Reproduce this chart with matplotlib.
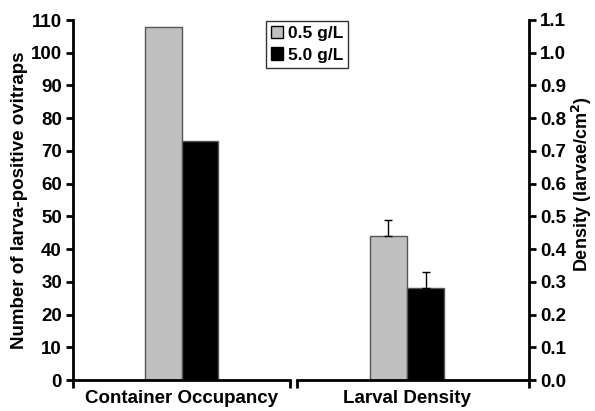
import matplotlib
matplotlib.use("Agg")
import matplotlib.pyplot as plt
from matplotlib.patches import Patch

plt.rcParams["font.family"] = ["Liberation Sans", "DejaVu Sans"]
plt.rcParams["font.weight"] = "bold"
plt.rcParams["axes.labelweight"] = "bold"
plt.rcParams["mathtext.default"] = "bf"

categories = ["Container Occupancy", "Larval Density"]
series = ["0.5 g/L", "5.0 g/L"]
occupancy = [108, 73]          # number of larva-positive ovitraps
density = [0.44, 0.28]         # larvae / cm^2
density_err = [0.05, 0.05]

colors = ["#c0c0c0", "#000000"]
edges = ["#555555", "#555555"]

fig = plt.figure(figsize=(5.95, 4.11), dpi=100)
ax1 = fig.add_axes([73 / 595, 1 - 380 / 411, (290 - 73) / 595, 360 / 411])
ax2 = fig.add_axes([297 / 595, 1 - 380 / 411, (529 - 297) / 595, 360 / 411])

w1 = 0.166
for i, (v, c, e) in enumerate(zip(occupancy, colors, edges)):
    ax1.bar((i - 0.5) * w1, v, width=w1, color=c, edgecolor=e, linewidth=1)
ax1.set_xlim(-0.5, 0.5)
ax1.set_ylim(0, 110)
ax1.set_yticks(range(0, 111, 10))

w2 = 0.16
for i, (v, err, c, e) in enumerate(zip(density, density_err, colors, edges)):
    ax2.bar((i - 0.5) * w2, v, width=w2, color=c, edgecolor=e, linewidth=1,
            yerr=[[0], [err]], capsize=3,
            error_kw=dict(ecolor="black", elinewidth=1, capthick=1))
ax2.set_xlim(-0.474, 0.526)
ax2.set_ylim(0, 1.1)
ax2.set_yticks([i / 10 for i in range(12)])
ax2.set_yticklabels([f"{i / 10:.1f}" for i in range(12)])

fs = 13.5
for ax, cat in zip((ax1, ax2), categories):
    for s in ax.spines.values():
        s.set_linewidth(2)
    ax.spines["top"].set_visible(False)
    lo, hi = ax.get_xlim()
    ax.set_xticks([lo, hi])
    ax.set_xticklabels(["", ""])
    ax.set_xticks([0], minor=True)
    ax.set_xticklabels([cat], minor=True)
    ax.tick_params(axis="x", which="major", direction="out", length=6, width=2)
    ax.tick_params(axis="x", which="minor", length=0, pad=7, labelsize=fs)
    ax.tick_params(axis="y", direction="out", length=5, width=2, labelsize=fs,
                   pad=3)
    for lbl in ax.get_yticklabels() + ax.get_xticklabels(minor=True):
        lbl.set_fontweight("bold")

ax1.spines["right"].set_visible(False)
ax2.spines["left"].set_visible(False)
ax2.yaxis.tick_right()
ax2.yaxis.set_label_position("right")

ax1.set_ylabel("Number of larva-positive ovitraps", fontsize=fs,
               fontweight="bold", labelpad=2)
ax2.set_ylabel("Density (larvae/cm$^{2}$)", fontsize=13,
               fontweight="bold")
ax2.yaxis.set_label_coords(1.175, 0.545)

handles = [Patch(facecolor=c, edgecolor="black", linewidth=1) for c in colors]
leg = fig.legend(handles, series, loc="upper left",
                 bbox_to_anchor=(266 / 595, 1 - 21 / 411),
                 frameon=True, fancybox=False, edgecolor="black",
                 prop=dict(size=12.5, weight="bold"),
                 handlelength=0.7, handleheight=0.7, handletextpad=0.25,
                 borderpad=0.3, labelspacing=0.35, borderaxespad=0)
leg.get_frame().set_linewidth(1)

fig.savefig("out.png", dpi=100)
